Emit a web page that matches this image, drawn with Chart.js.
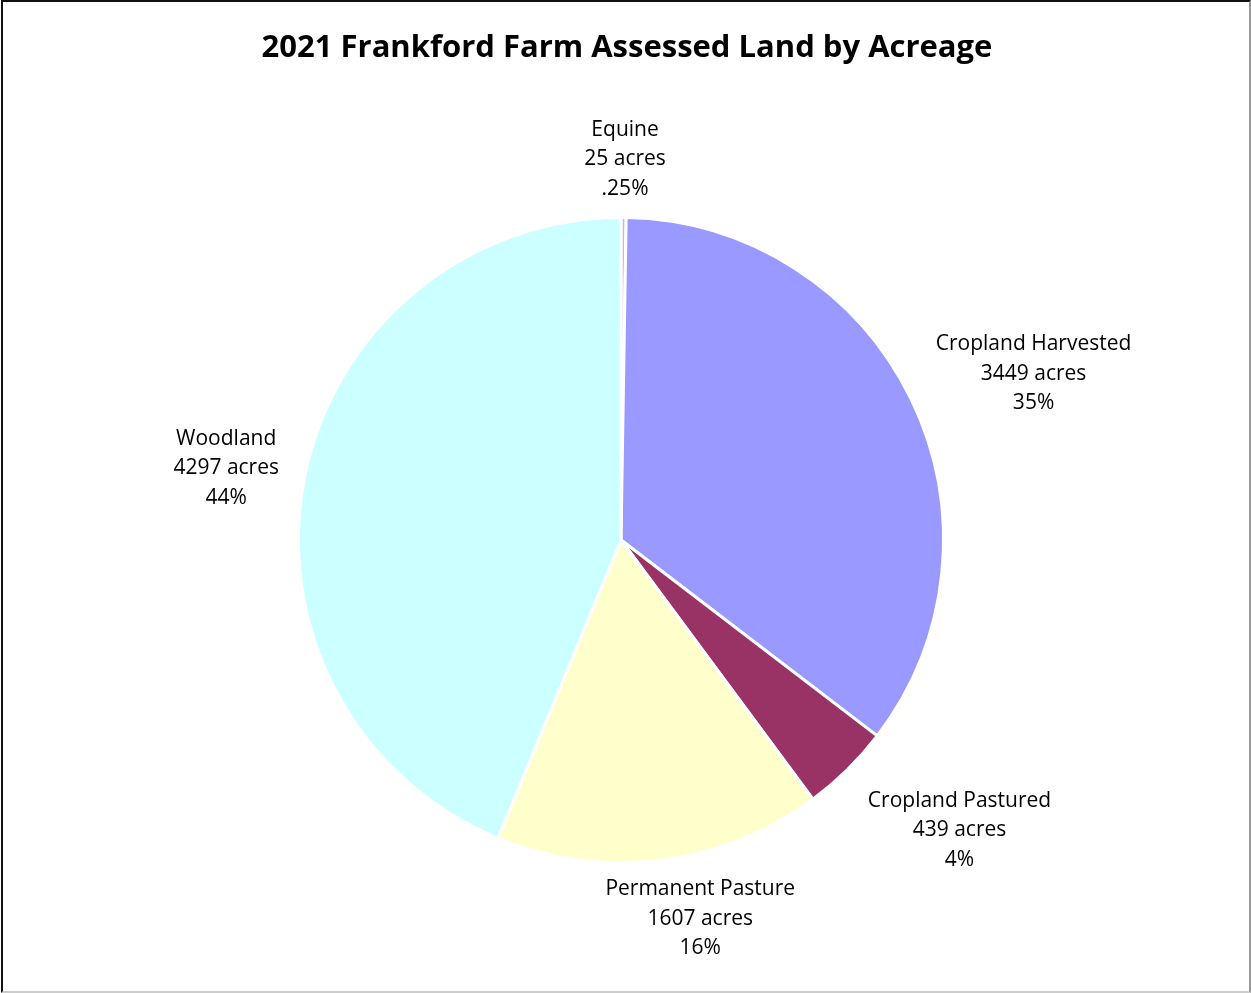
<!DOCTYPE html>
<html>
<head>
<meta charset="utf-8">
<script src="https://cdn.jsdelivr.net/npm/chart.js@4"></script>
<style>
  body { margin: 0; background: #fff; }
  #wrap { position: relative; width: 1251px; height: 993px; }
  canvas { position: absolute; left: 0; top: 0; }
  #frame {
    position: absolute; left: 1px; top: 0; width: 1250px; height: 993px;
    box-sizing: border-box; pointer-events: none;
    border-left: 2px solid #111; border-top: 2px solid #111;
    border-right: 2px solid #999; border-bottom: 2px solid #ccc;
  }
</style>
</head>
<body>
<div id="wrap">
  <canvas id="grafik" width="1251" height="993"></canvas>
  <div id="frame"></div>
</div>
<script>
const judul = '2021 Frankford Farm Assessed Land by Acreage';
const kategori = ['Equine', 'Cropland Harvested', 'Cropland Pastured', 'Permanent Pasture', 'Woodland'];
const acres = [25, 3449, 439, 1607, 4297];
const warna = ['#B8B8FF', '#9999FF', '#993366', '#FFFFCC', '#CCFFFF'];

const FONT = '"Open Sans", Lato, sans-serif';

// judul digambar sendiri supaya tidak dipaksa maxWidth oleh plugin title
const judulPlugin = {
  id: 'judulPlugin',
  afterDraw(chart) {
    const ctx = chart.ctx;
    ctx.save();
    ctx.font = 'bold 31px ' + FONT;
    ctx.fillStyle = '#000';
    ctx.textAlign = 'center';
    ctx.textBaseline = 'middle';
    ctx.fillText(judul, 627, 48);
    ctx.restore();
  }
};

// label di luar irisan: nama, acres, persen
const labelLuar = {
  id: 'labelLuar',
  afterDatasetsDraw(chart, args, opts) {
    const ctx = chart.ctx;
    const meta = chart.getDatasetMeta(0);
    const total = acres.reduce((a, b) => a + b, 0);
    ctx.save();
    ctx.font = opts.size + 'px ' + FONT;
    ctx.fillStyle = '#000';
    ctx.textAlign = 'center';
    ctx.textBaseline = 'middle';
    meta.data.forEach((arc, i) => {
      const p = arc.getProps(['x', 'y', 'startAngle', 'endAngle', 'outerRadius'], true);
      const mid = (p.startAngle + p.endAngle) / 2;
      const dx = Math.cos(mid), dy = Math.sin(mid);
      const pct = acres[i] / total * 100;
      const persen = pct < 1 ? pct.toFixed(2).replace(/^0/, '') + '%' : Math.round(pct) + '%';
      const teks = [kategori[i], acres[i] + ' acres', persen];
      const w = Math.max(...teks.map(t => ctx.measureText(t).width));
      const h = teks.length * opts.lineHeight;
      const r = p.outerRadius + opts.gap;
      const geser = opts.shift[i] || [0, 0];
      const cx = p.x + dx * r + dx * w / 2 + geser[0];
      const cy = p.y + dy * r + dy * h / 2 + geser[1] + 2;
      teks.forEach((t, k) => {
        ctx.fillText(t, cx, cy - h / 2 + opts.lineHeight * (k + 0.5));
      });
    });
    ctx.restore();
  }
};

const ctx = document.getElementById('grafik').getContext('2d');

const chart = new Chart(ctx, {
  type: 'pie',
  data: {
    labels: kategori,
    datasets: [{
      data: acres,
      backgroundColor: warna,
      borderColor: '#ffffff',
      borderWidth: 3,
      hoverOffset: 0,
      offset: 0
    }]
  },
  options: {
    responsive: false,
    animation: false,
    events: [],
    layout: {
      padding: { top: 216, bottom: 129, left: 297, right: 306 }
    },
    plugins: {
      legend: { display: false },
      tooltip: { enabled: false },
      title: { display: false },
      labelLuar: {
        size: 21,
        lineHeight: 29.5,
        gap: 17,
        shift: [[1, 1], [19, -1], [36, 15], [26, -4], [-10, 1]]
      }
    }
  },
  plugins: [labelLuar, judulPlugin]
});
</script>
</body>
</html>
